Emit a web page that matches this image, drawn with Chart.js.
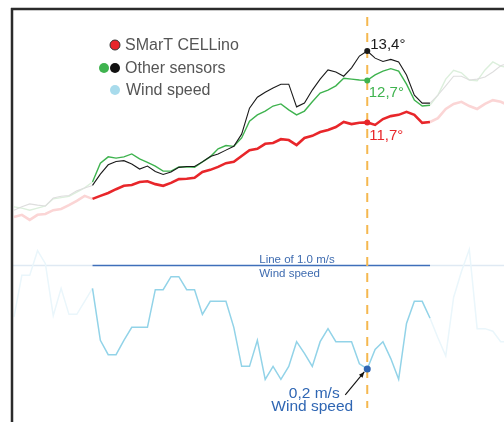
<!DOCTYPE html>
<html>
<head>
<meta charset="utf-8">
<script src="https://cdn.jsdelivr.net/npm/chart.js@4"></script>
<style>
  html, body { margin: 0; padding: 0; background: #fff; }
  #chart { display: block; }
</style>
</head>
<body>
<canvas id="chart" width="504" height="422" style="width:504px;height:422px"></canvas>
<script>
// temperature readings (°C), one per time step
const cellino = [
    9.45, 9.50, 9.38, 9.50, 9.52, 9.61, 9.64, 9.73,
    9.83, 9.95, 9.88, 9.95, 10.02, 10.11, 10.19, 10.21,
    10.28, 10.30, 10.23, 10.19, 10.26, 10.35, 10.36, 10.38,
    10.52, 10.57, 10.64, 10.73, 10.76, 10.90, 11.04, 11.07,
    11.19, 11.21, 11.30, 11.28, 11.16, 11.33, 11.38, 11.47,
    11.52, 11.59, 11.71, 11.66, 11.69, 11.7, 11.64, 11.78,
    11.85, 11.88, 11.95, 11.88, 11.69, 11.71, 11.80, 12.02,
    12.14, 12.19, 12.09, 12.02, 12.14, 12.23, 12.19, 12.11
];
const sensorGreen = [
    9.69, 9.66, 9.61, 9.66, 9.71, 9.88, 9.91, 9.94,
    10.04, 10.14, 10.28, 10.73, 10.88, 10.85, 10.88, 10.95,
    10.83, 10.75, 10.66, 10.54, 10.54, 10.64, 10.64, 10.63,
    10.76, 10.88, 11.07, 11.15, 11.13, 11.33, 11.73, 11.88,
    11.97, 12.09, 12.14, 12.00, 11.88, 11.97, 12.19, 12.40,
    12.47, 12.57, 12.75, 12.73, 12.71, 12.7, 12.83, 12.92,
    12.98, 12.92, 12.61, 12.23, 12.09, 12.11, 12.35, 12.73,
    12.94, 12.88, 12.71, 12.69, 12.95, 13.14, 13.04, 13.00
];
const sensorBlack = [
    9.61, 9.69, 9.76, 9.73, 9.71, 9.90, 9.94, 9.96,
    10.07, 10.14, 10.20, 10.47, 10.69, 10.77, 10.79, 10.71,
    10.59, 10.66, 10.53, 10.46, 10.52, 10.63, 10.65, 10.65,
    10.76, 10.89, 10.95, 11.04, 11.13, 11.42, 12.04, 12.30,
    12.42, 12.52, 12.61, 12.61, 12.07, 12.16, 12.47, 12.73,
    12.95, 12.90, 12.80, 13.00, 13.28, 13.4, 13.23, 13.15,
    13.20, 13.14, 12.83, 12.35, 12.16, 12.16, 12.35, 12.57,
    12.80, 12.80, 12.71, 12.73, 12.78, 12.90, 13.05, 13.11
];
// wind speed (m/s)
const windSpeed = [
    0.60, 0.92, 0.92, 1.11, 1.01, 0.61, 0.82, 0.62,
    0.62, 0.72, 0.82, 0.42, 0.31, 0.31, 0.42, 0.52,
    0.52, 0.52, 0.81, 0.81, 0.91, 0.91, 0.81, 0.81,
    0.62, 0.72, 0.72, 0.72, 0.52, 0.22, 0.22, 0.42,
    0.12, 0.22, 0.12, 0.22, 0.41, 0.32, 0.22, 0.41,
    0.51, 0.41, 0.41, 0.41, 0.24, 0.2, 0.35, 0.41,
    0.28, 0.12, 0.55, 0.72, 0.72, 0.59, 0.44, 0.30,
    0.75, 0.95, 1.12, 0.51, 0.51, 0.49, 0.41, 0.41
];

const markIndex = 45;   // moment marked by the dashed line
const focusStart = 10;  // bright part of every curve
const focusEnd = 53;
const windLine = 1.0;   // reference wind speed

const FONT = '"Liberation Sans", Arial, sans-serif';

function toPoints(arr) {
    return arr.map((v, i) => ({ x: i, y: v }));
}

function segColor(dark, light) {
    return ctx => (ctx.p0DataIndex >= focusStart && ctx.p1DataIndex <= focusEnd) ? dark : light;
}

function markRadius(r) {
    return ctx => ctx.dataIndex === markIndex ? r : 0;
}

function fmt(v) {
    return v.toFixed(1).replace('.', ',');
}

function line(ctx, x0, y0, x1, y1) {
    ctx.beginPath();
    ctx.moveTo(x0, y0);
    ctx.lineTo(x1, y1);
    ctx.stroke();
}

// frame, reference line, dashed marker, labels and legend
const decor = {
    id: 'decor',
    beforeDatasetsDraw(chart) {
        const { ctx, chartArea: a, scales } = chart;
        const x = scales.x;
        const ly = Math.round(scales.yW.getPixelForValue(windLine)) + 0.5;
        const x0 = x.getPixelForValue(focusStart);
        const x1 = x.getPixelForValue(focusEnd);
        ctx.save();
        ctx.lineWidth = 1.3;
        ctx.strokeStyle = '#dfe9f3';
        line(ctx, a.left, ly, x0, ly);
        line(ctx, x1, ly, a.right, ly);
        ctx.strokeStyle = '#3f6fba';
        line(ctx, x0, ly, x1, ly);

        const mx = x.getPixelForValue(markIndex);
        ctx.fillStyle = '#3f6cb0';
        ctx.font = '11.5px ' + FONT;
        ctx.textAlign = 'left';
        ctx.textBaseline = 'alphabetic';
        ctx.fillText('Line of ' + windLine.toFixed(1) + ' m/s', mx - 108, ly - 3);
        ctx.textBaseline = 'top';
        ctx.fillText('Wind speed', mx - 108, ly + 2.5);

        ctx.setLineDash([9, 7]);
        ctx.strokeStyle = '#f5b84f';
        ctx.lineWidth = 2;
        line(ctx, mx, a.top + 8, mx, a.bottom - 14);
        ctx.restore();
    },
    afterDatasetsDraw(chart) {
        const { ctx, chartArea: a, scales } = chart;
        const mx = scales.x.getPixelForValue(markIndex);
        const yb = scales.yT.getPixelForValue(sensorBlack[markIndex]);
        const yg = scales.yT.getPixelForValue(sensorGreen[markIndex]);
        const yr = scales.yT.getPixelForValue(cellino[markIndex]);
        const yw = scales.yW.getPixelForValue(windSpeed[markIndex]);
        ctx.save();

        // frame
        ctx.strokeStyle = '#2b2b2b';
        ctx.lineWidth = 2.5;
        line(ctx, a.left, a.top - 1, a.left, a.bottom);
        line(ctx, a.left - 1, a.top, a.right, a.top);

        // value labels at the marker
        ctx.font = '15px ' + FONT;
        ctx.textAlign = 'left';
        ctx.textBaseline = 'alphabetic';
        ctx.fillStyle = '#1a1a1a';
        ctx.fillText(fmt(sensorBlack[markIndex]) + '°', mx + 3, yb - 2);
        ctx.fillStyle = '#3fb34f';
        ctx.fillText(fmt(sensorGreen[markIndex]) + '°', mx + 1.5, yg + 17);
        ctx.fillStyle = '#e8262a';
        ctx.fillText(fmt(cellino[markIndex]) + '°', mx + 2, yr + 18);

        // wind callout with arrow
        ctx.fillStyle = '#2f66b3';
        ctx.textAlign = 'center';
        ctx.font = '15.5px ' + FONT;
        ctx.fillText(fmt(windSpeed[markIndex]) + ' m/s', mx - 53, yw + 29);
        ctx.fillText('Wind speed', mx - 55, yw + 42);
        const tx = mx - 22, ty = yw + 26, hx = mx - 3, hy = yw + 3;
        ctx.strokeStyle = '#111';
        ctx.lineWidth = 1.1;
        line(ctx, tx, ty, hx, hy);
        const ang = Math.atan2(hy - ty, hx - tx);
        ctx.fillStyle = '#111';
        ctx.beginPath();
        ctx.moveTo(hx, hy);
        ctx.lineTo(hx - 6 * Math.cos(ang - 0.4), hy - 6 * Math.sin(ang - 0.4));
        ctx.lineTo(hx - 6 * Math.cos(ang + 0.4), hy - 6 * Math.sin(ang + 0.4));
        ctx.closePath();
        ctx.fill();

        // legend
        const lx = a.left + 103;
        const rows = [a.top + 36, a.top + 59, a.top + 81];
        function dot(x, y, fill, stroke) {
            ctx.beginPath();
            ctx.arc(x, y, 5, 0, Math.PI * 2);
            ctx.fillStyle = fill;
            ctx.fill();
            if (stroke) {
                ctx.lineWidth = 1;
                ctx.strokeStyle = stroke;
                ctx.stroke();
            }
        }
        dot(lx, rows[0], '#e8262a', '#333');
        dot(lx - 11, rows[1], '#3fb34f');
        dot(lx, rows[1], '#111');
        dot(lx, rows[2], '#a8dbec');
        ctx.font = '16px ' + FONT;
        ctx.textAlign = 'left';
        ctx.textBaseline = 'middle';
        ctx.fillStyle = '#555';
        ctx.fillText('SMarT CELLino', lx + 10, rows[0] + 1);
        ctx.fillText('Other sensors', lx + 10, rows[1] + 1);
        ctx.fillText('Wind speed', lx + 11, rows[2] + 1);
        ctx.restore();
    }
};

const chart = new Chart(document.getElementById('chart'), {
    type: 'line',
    data: {
        datasets: [
            {
                data: toPoints(cellino),
                yAxisID: 'yT',
                borderWidth: 2.6,
                borderColor: '#e8262a',
                segment: { borderColor: segColor('#e8262a', '#fbd5d5') },
                pointRadius: markRadius(3),
                pointBackgroundColor: '#e8262a',
                pointBorderWidth: 0
            },
            {
                data: toPoints(sensorBlack),
                yAxisID: 'yT',
                borderWidth: 1.1,
                borderColor: '#1a1a1a',
                segment: { borderColor: segColor('#1a1a1a', '#dedede') },
                pointRadius: markRadius(3),
                pointBackgroundColor: '#1a1a1a',
                pointBorderWidth: 0
            },
            {
                data: toPoints(sensorGreen),
                yAxisID: 'yT',
                borderWidth: 1.4,
                borderColor: '#3fb34f',
                segment: { borderColor: segColor('#3fb34f', '#dcefdc') },
                pointRadius: markRadius(3),
                pointBackgroundColor: '#3fb34f',
                pointBorderWidth: 0
            },
            {
                data: toPoints(windSpeed),
                yAxisID: 'yW',
                borderWidth: 1.5,
                borderColor: '#92d3e8',
                segment: { borderColor: segColor('#92d3e8', '#eaf6fb') },
                pointRadius: markRadius(3.5),
                pointBackgroundColor: '#2f66b3',
                pointBorderWidth: 0
            }
        ]
    },
    options: {
        responsive: false,
        animation: false,
        devicePixelRatio: 1,
        layout: { padding: { left: 12, top: 9, right: 0, bottom: 0 } },
        elements: { line: { tension: 0 } },
        plugins: {
            legend: { display: false },
            tooltip: { enabled: false }
        },
        scales: {
            x: { type: 'linear', display: false, min: -0.255, max: 62.42 },
            yT: { type: 'linear', display: false, min: 4.567, max: 14.4 },
            yW: { type: 'linear', display: false, min: -0.208, max: 2.969 }
        }
    },
    plugins: [decor]
});
</script>
</body>
</html>
